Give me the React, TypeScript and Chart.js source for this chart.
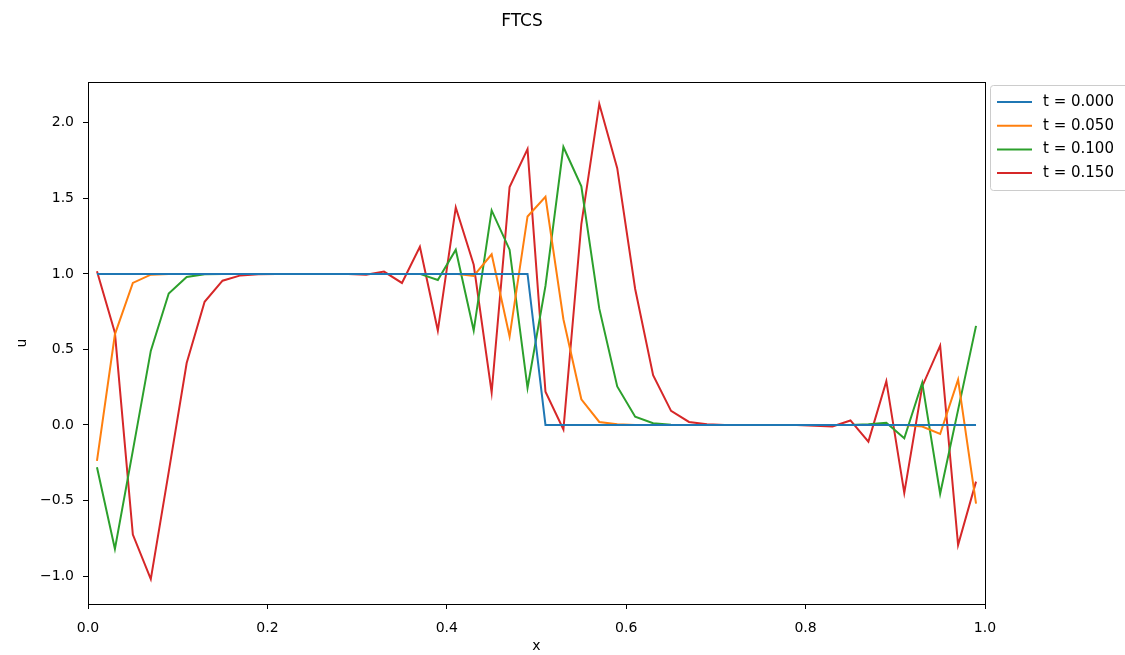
import React, { useEffect, useRef } from "react";
import { Chart, registerables } from "chart.js";

Chart.register(...registerables);

const xValues = [
  0.01, 0.03, 0.05, 0.07, 0.09, 0.11, 0.13, 0.15, 0.17, 0.19,
  0.21, 0.23, 0.25, 0.27, 0.29, 0.31, 0.33, 0.35, 0.37, 0.39,
  0.41, 0.43, 0.45, 0.47, 0.49, 0.51, 0.53, 0.55, 0.57, 0.59,
  0.61, 0.63, 0.65, 0.67, 0.69, 0.71, 0.73, 0.75, 0.77, 0.79,
  0.81, 0.83, 0.85, 0.87, 0.89, 0.91, 0.93, 0.95, 0.97, 0.99,
];

const uT000 = [
  1, 1, 1, 1, 1, 1, 1, 1, 1, 1,
  1, 1, 1, 1, 1, 1, 1, 1, 1, 1,
  1, 1, 1, 1, 1, 0, 0, 0, 0, 0,
  0, 0, 0, 0, 0, 0, 0, 0, 0, 0,
  0, 0, 0, 0, 0, 0, 0, 0, 0, 0,
];

const uT050 = [
  -0.238, 0.6, 0.94, 0.995, 1, 1, 1, 1, 1, 1,
  1, 1, 1, 1, 1, 1, 1, 1, 1, 1,
  1, 0.987, 1.13, 0.585, 1.38, 1.51, 0.7, 0.17, 0.02, 0.005,
  0, 0, 0, 0, 0, 0, 0, 0, 0, 0,
  0, 0, 0, 0, 0, 0, -0.01, -0.06, 0.3, -0.52,
];

const uT100 = [
  -0.28, -0.82, -0.17, 0.49, 0.87, 0.98, 0.998, 1, 1, 1,
  1, 1, 1, 1, 1, 1, 1, 1, 1, 0.96,
  1.16, 0.625, 1.42, 1.16, 0.245, 0.92, 1.84, 1.58, 0.77, 0.255,
  0.055, 0.012, 0.002, 0, 0, 0, 0, 0, 0, 0,
  0, 0, 0, 0.005, 0.015, -0.088, 0.28, -0.455, 0.1, 0.656,
];

const uT150 = [
  1.018, 0.61, -0.725, -1.02, -0.31, 0.41, 0.815, 0.955, 0.99, 0.998,
  1, 1, 1, 1, 1, 0.995, 1.015, 0.94, 1.18, 0.625,
  1.44, 1.06, 0.215, 1.575, 1.826, 0.22, -0.03, 1.33, 2.125, 1.7,
  0.9, 0.33, 0.093, 0.02, 0.004, 0, 0, 0, 0, 0,
  -0.005, -0.01, 0.03, -0.11, 0.29, -0.45, 0.255, 0.525, -0.795, -0.375,
];

const seriesLabels = ["t = 0.000", "t = 0.050", "t = 0.100", "t = 0.150"];
const seriesColors = ["#1f77b4", "#ff7f0e", "#2ca02c", "#d62728"];
const seriesValues = [uT000, uT050, uT100, uT150];

const xTicks = [0, 0.2, 0.4, 0.6, 0.8, 1.0];
const yTicks = [-1.0, -0.5, 0.0, 0.5, 1.0, 1.5, 2.0];

const chartTitle = "FTCS";
const xTitle = "x";
const yTitle = "u";

const FONT = "'DejaVu Sans', sans-serif";

const W = 1125;
const H = 655;
const AREA = { left: 88, right: 985, top: 82, bottom: 604 };

export default function App() {
  const canvasRef = useRef<HTMLCanvasElement | null>(null);

  useEffect(() => {
    document.body.style.margin = "0";
    const canvas = canvasRef.current;
    if (!canvas) return;

    const framePlugin = {
      id: "frameAndExtras",
      afterDraw(chart: any) {
        const ctx = chart.ctx;
        const a = chart.chartArea;
        ctx.save();
        // spines
        ctx.strokeStyle = "#000";
        ctx.lineWidth = 1;
        ctx.strokeRect(Math.round(a.left) + 0.5, Math.round(a.top) + 0.5, Math.round(a.right - a.left), Math.round(a.bottom - a.top));
        // title
        ctx.fillStyle = "#000";
        ctx.font = `17px ${FONT}`;
        ctx.textAlign = "center";
        ctx.textBaseline = "middle";
        ctx.fillText(chartTitle, 522, 22);
        // legend
        const lx = 990.5, ly = 85.5, lw = 140, lh = 105;
        ctx.fillStyle = "rgba(255,255,255,0.8)";
        ctx.strokeStyle = "#cccccc";
        ctx.lineWidth = 1;
        ctx.beginPath();
        const r = 3;
        ctx.moveTo(lx + r, ly);
        ctx.lineTo(lx + lw - r, ly);
        ctx.arcTo(lx + lw, ly, lx + lw, ly + r, r);
        ctx.lineTo(lx + lw, ly + lh - r);
        ctx.arcTo(lx + lw, ly + lh, lx + lw - r, ly + lh, r);
        ctx.lineTo(lx + r, ly + lh);
        ctx.arcTo(lx, ly + lh, lx, ly + lh - r, r);
        ctx.lineTo(lx, ly + r);
        ctx.arcTo(lx, ly, lx + r, ly, r);
        ctx.closePath();
        ctx.fill();
        ctx.stroke();
        ctx.font = `15px ${FONT}`;
        ctx.textAlign = "left";
        ctx.textBaseline = "middle";
        seriesLabels.forEach((lab, i) => {
          const yy = 102 + i * 23.7;
          ctx.strokeStyle = seriesColors[i];
          ctx.lineWidth = 2;
          ctx.beginPath();
          ctx.moveTo(997, yy);
          ctx.lineTo(1032, yy);
          ctx.stroke();
          ctx.fillStyle = "#000";
          ctx.fillText(lab, 1043, yy);
        });
        ctx.restore();
      },
    };

    const chart = new Chart(canvas, {
      type: "line",
      data: {
        datasets: seriesValues.map((vals, i) => ({
          label: seriesLabels[i],
          data: vals.map((v, j) => ({ x: xValues[j], y: v })),
          borderColor: seriesColors[i],
          backgroundColor: seriesColors[i],
          borderWidth: 2,
          pointRadius: 0,
          tension: 0,
          fill: false,
        })),
      },
      options: {
        responsive: false,
        animation: false,
        devicePixelRatio: 1,
        layout: { padding: { top: AREA.top, right: W - AREA.right, left: 0, bottom: 0 } },
        plugins: {
          legend: { display: false },
          title: { display: false },
          tooltip: { enabled: false },
        },
        scales: {
          x: {
            type: "linear",
            min: 0,
            max: 1,
            afterBuildTicks: (scale: any) => {
              scale.ticks = xTicks.map((v) => ({ value: v }));
            },
            afterFit: (scale: any) => {
              scale.height = H - AREA.bottom;
            },
            ticks: {
              color: "#000",
              font: { family: FONT, size: 14 },
              padding: 11,
              maxRotation: 0,
              autoSkip: false,
              callback: (v: any) => Number(v).toFixed(1),
            },
            grid: { drawOnChartArea: false, drawTicks: true, tickLength: 5, color: "#000", lineWidth: 1 },
            border: { display: true, color: "#000", width: 1 },
            title: { display: true, text: xTitle, color: "#000", font: { family: FONT, size: 14 }, padding: { top: 0, bottom: 0 } },
          },
          y: {
            type: "linear",
            min: -1.185,
            max: 2.27,
            afterBuildTicks: (scale: any) => {
              scale.ticks = yTicks.map((v) => ({ value: v }));
            },
            afterFit: (scale: any) => {
              scale.width = AREA.left;
            },
            ticks: {
              color: "#000",
              font: { family: FONT, size: 14 },
              padding: 9,
              autoSkip: false,
              callback: (v: any) => Number(v).toFixed(1).replace("-", "\u2212"),
            },
            grid: { drawOnChartArea: false, drawTicks: true, tickLength: 5, color: "#000", lineWidth: 1 },
            border: { display: true, color: "#000", width: 1 },
            title: { display: true, text: yTitle, color: "#000", font: { family: FONT, size: 14 }, padding: { top: 14, bottom: 0 } },
          },
        },
      },
      plugins: [framePlugin],
    });

    return () => chart.destroy();
  }, []);

  return (
    <div style={{ position: "relative", width: W, height: H, background: "#fff" }}>
      <canvas ref={canvasRef} width={W} height={H} style={{ display: "block", width: W, height: H }} />
    </div>
  );
}
